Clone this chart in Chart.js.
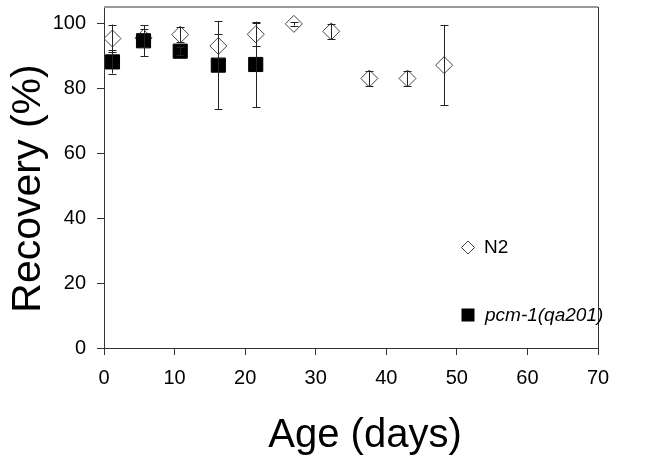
<!DOCTYPE html>
<html>
<head>
<meta charset="utf-8">
<script src="https://cdn.jsdelivr.net/npm/chart.js@4"></script>
<style>
html,body{margin:0;padding:0;background:#fff;}
#wrap{width:649px;height:466px;}
</style>
</head>
<body>
<div id="wrap"><canvas id="c" width="649" height="466"></canvas></div>
<script>
// Data
const n2Age = [1.2, 5.6, 10.8, 16.2, 21.5, 26.9, 32.2, 37.6, 43.0, 48.2];
const n2Recovery = [95.3, 95.5, 96.5, 93.0, 96.6, 99.8, 97.5, 83.0, 83.0, 87.1];
const n2Err = [4.3, 2.7, 2.3, 3.8, 3.6, 0.5, 2.4, 2.3, 2.3, 12.4];
const pcmAge = [1.2, 5.6, 10.8, 16.2, 21.5];
const pcmRecovery = [88.1, 94.6, 91.4, 87.1, 87.3];
const pcmErr = [3.6, 4.8, 1.2, 13.6, 13.2];
const yTicks = [0, 20, 40, 60, 80, 100];
const xTicks = [0, 10, 20, 30, 40, 50, 60, 70];
const seriesNames = ['N2', 'pcm-1(qa201)'];
const xTitle = 'Age (days)';
const yTitle = 'Recovery (%)';

const FONT = "'Liberation Sans', Arial, sans-serif";

const toPts = (xs, ys) => xs.map((x, i) => ({x: x, y: ys[i]}));

// pin the plot area's top edge
const areaTop = {
  id: 'areaTop',
  afterLayout(chart) {
    const t = 7;
    const y = chart.scales.y, a = chart.chartArea;
    y.top = t; y.height = y.bottom - t;
    y.configure();
    a.top = t; a.height = a.bottom - t;
  }
};

const errorBars = {
  id: 'errorBars',
  afterDatasetsDraw(chart) {
    const ctx = chart.ctx;
    const xs = chart.scales.x, ys = chart.scales.y;
    const sets = [[n2Age, n2Recovery, n2Err], [pcmAge, pcmRecovery, pcmErr]];
    ctx.save();
    ctx.strokeStyle = '#222';
    ctx.lineWidth = 1;
    sets.forEach(([ax, vy, er]) => {
      ax.forEach((a, i) => {
        const px = Math.round(xs.getPixelForValue(a)) + 0.5;
        const top = ys.getPixelForValue(vy[i] + er[i]);
        const bot = ys.getPixelForValue(vy[i] - er[i]);
        ctx.beginPath();
        ctx.moveTo(px, top); ctx.lineTo(px, bot);
        ctx.moveTo(px - 4, Math.round(top) + 0.5); ctx.lineTo(px + 4, Math.round(top) + 0.5);
        ctx.moveTo(px - 4, Math.round(bot) + 0.5); ctx.lineTo(px + 4, Math.round(bot) + 0.5);
        ctx.stroke();
      });
    });
    ctx.restore();
  }
};

const decor = {
  id: 'decor',
  afterDraw(chart) {
    const ctx = chart.ctx;
    const a = chart.chartArea;
    ctx.save();
    // frame top and right
    ctx.strokeStyle = '#999';
    ctx.lineWidth = 2;
    ctx.beginPath();
    ctx.moveTo(a.left, a.top); ctx.lineTo(a.right, a.top);
    ctx.stroke();
    ctx.strokeStyle = '#333';
    ctx.lineWidth = 1;
    ctx.beginPath();
    ctx.moveTo(a.right + 0.5, a.top); ctx.lineTo(a.right + 0.5, a.bottom);
    ctx.stroke();

    // axis titles
    ctx.fillStyle = '#000';
    ctx.textAlign = 'center';
    ctx.textBaseline = 'alphabetic';
    ctx.font = '40px ' + FONT;
    ctx.fillText(xTitle, 365, 447);
    ctx.save();
    ctx.translate(40, 188.5);
    ctx.rotate(-Math.PI / 2);
    ctx.font = '41px ' + FONT;
    ctx.fillText(yTitle, 0, 0);
    ctx.restore();

    // legend
    ctx.strokeStyle = '#444';
    ctx.lineWidth = 1;
    ctx.beginPath();
    const dx = 468, dy = 247.5, r = 6.5;
    ctx.moveTo(dx - r, dy); ctx.lineTo(dx, dy - r); ctx.lineTo(dx + r, dy); ctx.lineTo(dx, dy + r);
    ctx.closePath();
    ctx.stroke();
    ctx.fillStyle = '#000';
    ctx.fillRect(461.5, 308.5, 13, 13);
    ctx.textAlign = 'left';
    ctx.font = '19px ' + FONT;
    ctx.fillText(seriesNames[0], 484, 253);
    ctx.font = 'italic 19px ' + FONT;
    ctx.fillText(seriesNames[1], 485, 321);
    ctx.restore();
  }
};

new Chart(document.getElementById('c'), {
  type: 'scatter',
  data: {
    datasets: [
      {
        label: seriesNames[1],
        data: toPts(pcmAge, pcmRecovery),
        pointStyle: 'rect',
        pointRadius: 10,
        pointBackgroundColor: '#000',
        pointBorderColor: '#000',
        pointBorderWidth: 1,
        showLine: false
      },
      {
        label: seriesNames[0],
        data: toPts(n2Age, n2Recovery),
        pointStyle: 'rectRot',
        pointRadius: 8.5,
        pointBackgroundColor: 'rgba(255,255,255,0)',
        pointBorderColor: '#444',
        pointBorderWidth: 1,
        showLine: false
      }
    ]
  },
  options: {
    responsive: false,
    animation: false,
    devicePixelRatio: 1,
    layout: {padding: {top: 7, right: 51, left: 0, bottom: 0}},
    plugins: {legend: {display: false}, tooltip: {enabled: false}, title: {display: false}},
    scales: {
      x: {
        type: 'linear',
        min: 0, max: 70,
        afterBuildTicks(s) { s.ticks = xTicks.map(v => ({value: v})); },
        afterFit(s) { s.height = 118; s.paddingLeft = 0; s.paddingRight = 0; },
        grid: {drawOnChartArea: false, drawTicks: true, tickLength: 7, color: '#333'},
        border: {display: true, color: '#333', width: 1},
        ticks: {color: '#000', font: {family: FONT, size: 20}, padding: 11, maxRotation: 0}
      },
      y: {
        type: 'linear',
        min: 0, max: 105,
        afterBuildTicks(s) { s.ticks = yTicks.map(v => ({value: v})); },
        afterFit(s) { s.width = 104; s.paddingTop = 0; s.paddingBottom = 0; },
        grid: {drawOnChartArea: false, drawTicks: true, tickLength: 7, color: '#333'},
        border: {display: true, color: '#333', width: 1},
        ticks: {color: '#000', font: {family: FONT, size: 20}, padding: 11}
      }
    }
  },
  plugins: [areaTop, errorBars, decor]
});
</script>
</body>
</html>
